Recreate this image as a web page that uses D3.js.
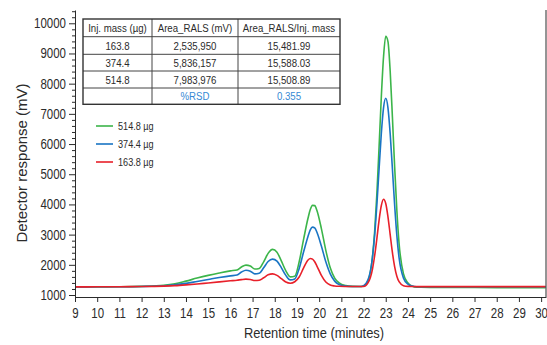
<!DOCTYPE html>
<html>
<head>
<meta charset="utf-8">
<script src="https://cdn.jsdelivr.net/npm/d3@7"></script>
<style>
  body { margin: 0; background: #fff; }
  svg { display: block; }
  text { font-family: "Liberation Sans", Arial, sans-serif; }
</style>
</head>
<body>
<svg id="chart" width="547" height="345"></svg>
<script>
// retention time (min) shared by all three traces
const times = [9, 10, 11, 12, 13, 13.5, 14, 14.5, 15, 15.5, 16, 16.3, 16.5, 16.7, 16.9, 17.1, 17.3, 17.5, 17.7, 17.9,
    18.1, 18.3, 18.5, 18.7, 18.9, 19.1, 19.3, 19.5, 19.6, 19.7, 19.8, 19.9, 20.1, 20.3, 20.5, 20.7, 20.9, 21.2, 21.5, 21.8,
    22.0, 22.2, 22.4, 22.5, 22.6, 22.7, 22.8, 22.9, 23.0, 23.1, 23.2, 23.3, 23.4, 23.5, 23.6, 23.8, 24.0, 24.2, 24.4, 24.6,
    25, 26, 27, 28, 29, 30.2]

const green514 = [1265, 1268, 1272, 1285, 1320, 1370, 1460, 1560, 1650, 1730, 1800, 1830, 1930, 1990, 1960, 1860, 1880, 2100, 2380, 2510,
    2420, 2120, 1800, 1600, 1620, 2100, 2850, 3550, 3830, 3970, 3960, 3800, 3200, 2480, 1900, 1560, 1400, 1310, 1285, 1280,
    1290, 1465, 2250, 3105, 4350, 5910, 7550, 8885, 9570, 9395, 8410, 6900, 5260, 3810, 2715, 1700, 1400, 1290, 1260, 1255,
    1252, 1250, 1248, 1246, 1244, 1242]

const blue374 = [1270, 1272, 1275, 1283, 1305, 1335, 1385, 1450, 1515, 1580, 1635, 1660, 1760, 1820, 1790, 1700, 1720, 1900, 2110, 2190,
    2120, 1900, 1650, 1500, 1530, 1880, 2430, 2950, 3160, 3250, 3220, 3080, 2620, 2100, 1700, 1460, 1350, 1295, 1283, 1280,
    1310, 1500, 2235, 2975, 3990, 5180, 6340, 7200, 7515, 7200, 6340, 5180, 3990, 2975, 2235, 1560, 1360, 1295, 1275, 1272,
    1272, 1272, 1272, 1272, 1272, 1272]

const red163 = [1270, 1272, 1275, 1280, 1295, 1310, 1335, 1365, 1400, 1435, 1470, 1490, 1510, 1525, 1515, 1480, 1490, 1570, 1670, 1700,
    1650, 1540, 1430, 1390, 1440, 1595, 1900, 2160, 2210, 2190, 2100, 1960, 1650, 1430, 1330, 1300, 1288, 1282, 1280, 1280,
    1282, 1400, 1850, 2300, 2870, 3480, 3960, 4170, 4030, 3590, 3000, 2410, 1940, 1620, 1440, 1310, 1285, 1280, 1278, 1278,
    1278, 1278, 1278, 1278, 1278, 1278]

const seriesNames = ["514.8 µg", "374.4 µg", "163.8 µg"]
const seriesColors = ["#3cb54a", "#1a75c4", "#e8202a"]

const tableHeader = ["Inj. mass (µg)", "Area_RALS (mV)", "Area_RALS/Inj. mass"]
const tableRows = [
    ["163.8", "2,535,950", "15,481.99"],
    ["374.4", "5,836,157", "15,588.03"],
    ["514.8", "7,983,976", "15,508.89"],
    ["", "%RSD", "0.355"]
]

const xTicks = d3.range(9, 31)
const yTicks = d3.range(1000, 10001, 1000)
const yMinor = d3.range(1200, 10401, 200).filter(v => v % 1000 !== 0)

const svg = d3.select("#chart")
const ink = "#2b2b2b"

// no condensed face installed: squeeze text horizontally instead
function condense(sel, k) {
    sel.each(function () {
        const t = d3.select(this)
        const x0 = +t.attr("x") || 0
        t.attr("x", x0 / k).attr("transform", "scale(" + k + ",1)")
    })
}

const x = d3.scaleLinear().domain([9, 30.22]).range([75, 546])
const y = d3.scaleLinear().domain([934, 10440]).range([297, 10])

// traces (green under, red on top)
const traces = [green514, blue374, red163]
const line = d3.line()
    .x(d => x(d[0]))
    .y(d => y(d[1]))
    .curve(d3.curveMonotoneX)

traces.forEach((vals, i) => {
    svg.append("path")
        .datum(times.map((t, j) => [t, vals[j]]))
        .attr("d", line)
        .attr("fill", "none")
        .attr("stroke", seriesColors[i])
        .attr("stroke-width", 1.6)
})

// axes
const xAxis = svg.append("g")
    .attr("transform", "translate(0,297)")
    .call(d3.axisBottom(x).tickValues(xTicks).tickSize(5).tickPadding(6).tickSizeOuter(0))
xAxis.selectAll("text").attr("font-size", 14).attr("fill", ink).style("font-family", "Liberation Sans, Arial, sans-serif")
condense(xAxis.selectAll("text"), 0.82)
xAxis.selectAll("line,path").attr("stroke", ink)

const yAxis = svg.append("g")
    .attr("transform", "translate(75,0)")
    .call(d3.axisLeft(y).tickValues(yTicks).tickFormat(d3.format("d")).tickSize(6).tickPadding(3).tickSizeOuter(0))
yAxis.selectAll("text").attr("font-size", 14).attr("fill", ink).style("font-family", "Liberation Sans, Arial, sans-serif")
condense(yAxis.selectAll("text"), 0.82)
yAxis.selectAll("line,path").attr("stroke", ink)

const yMin = svg.append("g")
    .attr("transform", "translate(75,0)")
    .call(d3.axisLeft(y).tickValues(yMinor).tickSize(3).tickFormat("").tickSizeOuter(0))
yMin.select(".domain").remove()
yMin.selectAll("line").attr("stroke", ink)

// right frame
svg.append("line")
    .attr("x1", 546).attr("x2", 546)
    .attr("y1", y.range()[1]).attr("y2", y.range()[0])
    .attr("stroke", ink)

// axis titles
const xTitle = svg.append("text")
    .attr("x", 314).attr("y", 338)
    .attr("text-anchor", "middle")
    .attr("font-size", 14)
    .attr("fill", ink)
    .text("Retention time (minutes)")
condense(xTitle, 0.92)

svg.append("text")
    .attr("transform", "translate(27,163) rotate(-90)")
    .attr("text-anchor", "middle")
    .attr("font-size", 15)
    .attr("fill", ink)
    .text("Detector response (mV)")

// table
const colX = [83, 152, 238, 340]
const rowY = [19, 36.7, 54.3, 71, 88, 104.3]
const tbl = svg.append("g")
const allRows = [tableHeader].concat(tableRows)

for (let r = 0; r < allRows.length; r++) {
    for (let c = 0; c < 3; c++) {
        const blue = r === allRows.length - 1 && c > 0
        tbl.append("text")
            .attr("x", (colX[c] + colX[c + 1]) / 2)
            .attr("y", (rowY[r] + rowY[r + 1]) / 2 + 4.2)
            .attr("text-anchor", "middle")
            .attr("font-size", 11.5)
            .attr("fill", blue ? "#3589d4" : ink)
            .text(allRows[r][c])
    }
}
condense(tbl.selectAll("text"), 0.84)
for (let r = 1; r < rowY.length - 1; r++) {
    tbl.append("line")
        .attr("x1", colX[0]).attr("x2", colX[3])
        .attr("y1", rowY[r]).attr("y2", rowY[r])
        .attr("stroke", "#444").attr("stroke-width", 1)
}
for (let c = 1; c < colX.length - 1; c++) {
    tbl.append("line")
        .attr("x1", colX[c]).attr("x2", colX[c])
        .attr("y1", rowY[0]).attr("y2", rowY[rowY.length - 1])
        .attr("stroke", "#444").attr("stroke-width", 1)
}
tbl.append("rect")
    .attr("x", colX[0]).attr("y", rowY[0])
    .attr("width", colX[3] - colX[0]).attr("height", rowY[rowY.length - 1] - rowY[0])
    .attr("fill", "none").attr("stroke", "#333").attr("stroke-width", 1.4)

// legend
const leg = svg.append("g")
seriesNames.forEach((name, i) => {
    const ly = 126 + i * 18
    leg.append("line")
        .attr("x1", 96).attr("x2", 113)
        .attr("y1", ly).attr("y2", ly)
        .attr("stroke", seriesColors[i]).attr("stroke-width", 1.6)
    leg.append("text")
        .attr("x", 118).attr("y", ly + 4)
        .attr("font-size", 11)
        .attr("fill", ink)
        .text(name)
})
condense(leg.selectAll("text"), 0.83)
</script>
</body>
</html>
